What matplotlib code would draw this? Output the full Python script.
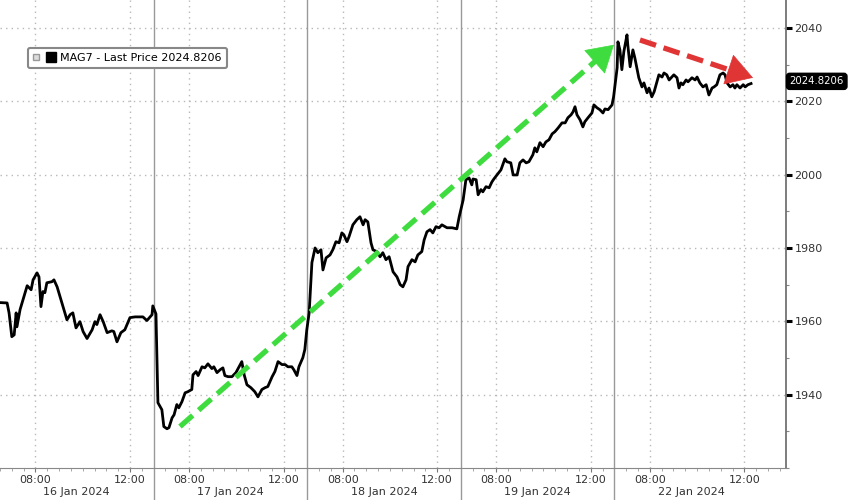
"""
MAG7 intraday chart (16-22 Jan 2024)
"""
import numpy as np
import matplotlib
matplotlib.use('Agg')
import matplotlib.pyplot as plt
from matplotlib.lines import Line2D
from matplotlib.legend_handler import HandlerTuple
from matplotlib.ticker import MultipleLocator
from matplotlib.transforms import blended_transform_factory

plt.rcParams['font.family'] = ['DejaVu Sans']

# trading minutes elapsed since 16 Jan 06:30 (each session = 390 min)
minutes = [
    0, 18, 23, 30, 36, 41, 43, 51, 69, 79, 84, 94, 99, 104, 109, 114, 119, 132, 137, 145,
    157, 170, 178, 185, 193, 203, 211, 221, 234, 241, 246, 254, 262, 272, 284, 289, 297, 307,
    317, 330, 343, 355, 363, 373, 386, 388,
    396, 401, 411, 416, 424, 429, 437, 442, 449, 454, 462, 470, 477, 487, 490, 498, 503, 513,
    520, 528, 538, 543, 551, 559, 566, 571, 579, 589, 599, 607, 614, 620, 627, 637, 647, 655,
    665, 673, 680, 691, 698, 706, 716, 724, 731, 741, 746, 754, 759, 769, 774, 779,
    785, 792, 800, 807, 815, 820, 828, 838, 845, 853, 861, 868, 873, 881, 886, 896, 906, 914,
    922, 927, 934, 942, 947, 957, 965, 972, 980, 988, 998, 1008, 1016, 1023, 1031, 1036, 1046,
    1054, 1061, 1071, 1077, 1084, 1092, 1099, 1107, 1115, 1122, 1135, 1148, 1160, 1166,
    1176, 1183, 1191, 1198, 1201, 1209, 1214, 1221, 1226, 1234, 1242, 1249, 1254, 1262, 1272,
    1282, 1287, 1297, 1303, 1313, 1320, 1328, 1336, 1343, 1353, 1358, 1363, 1371, 1379, 1386,
    1394, 1402, 1409, 1417, 1427, 1435, 1442, 1450, 1455, 1460, 1465, 1473, 1480, 1485, 1493,
    1503, 1508, 1516, 1523, 1531, 1536, 1544, 1554, 1558,
    1567, 1569, 1574, 1579, 1584, 1592, 1594, 1600, 1605, 1607, 1612, 1617, 1622, 1630, 1635,
    1643, 1648, 1655, 1661, 1668, 1673, 1681, 1686, 1693, 1699, 1706, 1711, 1719, 1724, 1729,
    1734, 1742, 1747, 1757, 1765, 1770, 1777, 1785, 1793, 1800, 1808, 1813, 1820, 1828, 1836,
    1841, 1846, 1854, 1861, 1866, 1871, 1879, 1887, 1892, 1899, 1907,
]
prices = [
    1965.1, 1965.0, 1962.3, 1955.8, 1956.3, 1962.3, 1958.5, 1963.2, 1969.7, 1968.6, 1971.3,
    1973.2, 1972.1, 1964.0, 1968.1, 1967.8, 1970.5, 1970.8, 1971.3, 1969.4, 1965.1, 1960.4,
    1961.8, 1962.3, 1958.2, 1959.9, 1957.2, 1955.3, 1957.7, 1959.9, 1959.1, 1961.8, 1959.9,
    1956.9, 1957.4, 1957.2, 1954.4, 1956.9, 1957.7, 1961.0, 1961.2, 1961.2, 1961.2, 1960.2,
    1961.8, 1964.2,
    1962.0, 1937.8, 1935.9, 1931.3, 1930.7, 1931.0, 1933.7, 1934.5, 1937.3, 1936.4, 1938.1,
    1940.5, 1940.8, 1941.4, 1945.4, 1946.3, 1945.2, 1947.6, 1947.3, 1948.4, 1947.1, 1947.6,
    1946.0, 1946.8, 1947.3, 1945.2, 1944.9, 1944.9, 1946.0, 1947.6, 1949.0, 1945.4, 1942.7,
    1941.9, 1940.8, 1939.4, 1941.4, 1941.9, 1942.2, 1944.9, 1946.3, 1949.0, 1948.2, 1948.2,
    1947.6, 1947.6, 1946.8, 1945.2, 1947.6, 1950.1, 1952.3, 1957.7,
    1962.3, 1976.0, 1980.0, 1978.7, 1979.5, 1974.0, 1977.3, 1978.1, 1979.5, 1981.7, 1981.4,
    1984.1, 1983.6, 1981.7, 1983.0, 1986.3, 1987.7, 1988.5, 1986.3, 1987.7, 1987.1, 1981.4,
    1979.5, 1979.0, 1977.6, 1978.7, 1976.8, 1977.6, 1973.5, 1972.1, 1970.0, 1969.4, 1971.3,
    1974.9, 1976.8, 1976.2, 1978.1, 1979.0, 1982.2, 1984.4, 1985.0, 1984.1, 1985.8, 1985.5,
    1986.3, 1985.5, 1985.5, 1985.2, 1988.5,
    1993.1, 1998.6, 1999.1, 1997.2, 1998.8, 1998.6, 1994.5, 1995.9, 1995.3, 1996.7, 1996.4,
    1998.0, 1998.8, 1999.9, 2001.3, 2004.3, 2003.5, 2003.2, 1999.9, 1999.9, 2003.2, 2004.0,
    2003.2, 2003.5, 2005.4, 2007.3, 2006.2, 2008.7, 2007.6, 2008.9, 2009.5, 2011.1, 2011.7,
    2012.7, 2014.1, 2014.1, 2015.5, 2016.3, 2017.1, 2018.5, 2016.3, 2014.9, 2013.0, 2014.4,
    2015.5, 2016.8, 2019.0, 2018.2, 2017.7, 2016.8, 2017.9, 2017.7, 2019.0, 2021.2,
    2029.1, 2036.2, 2034.0, 2028.6, 2033.5, 2038.1, 2035.4, 2029.4, 2032.6, 2034.0, 2031.8,
    2029.1, 2026.4, 2023.9, 2025.0, 2022.3, 2023.6, 2021.2, 2022.6, 2025.3, 2027.2, 2026.6,
    2027.7, 2027.2, 2025.8, 2026.6, 2027.2, 2026.4, 2023.6, 2025.0, 2024.5, 2025.8, 2025.3,
    2026.4, 2025.8, 2026.6, 2025.0, 2023.9, 2024.5, 2021.7, 2023.6, 2023.9, 2024.5, 2027.2,
    2027.7, 2027.2, 2025.0, 2023.9, 2024.5, 2023.6, 2024.5, 2023.6, 2024.5, 2023.9, 2024.5,
    2024.82,
]

sessions = ["16 Jan 2024", "17 Jan 2024", "18 Jan 2024", "19 Jan 2024", "22 Jan 2024"]
session_len = 390
session_open = "06:30"
tick_clocks = ["08:00", "12:00"]
y_ticks = [1940, 1960, 1980, 2000, 2020, 2040]
last_price = 2024.8206
legend_label = "MAG7 - Last Price 2024.8206"

# annotation arrows: (start, end) in (minute, price)
green_arrow = [(457, 1931.3), (1559, 2035.4)]
red_arrow = [(1625, 2036.7), (1912, 2026.4)]


def clock_to_min(s):
    h, m = s.split(":")
    return int(h) * 60 + int(m)


fig = plt.figure(figsize=(8.48, 5), dpi=100)
ax = fig.add_axes([0, 0.064, 0.927, 0.936])

ax.plot(minutes, prices, color='black', lw=2.0, zorder=5, solid_joinstyle='round')
ax.set_xlim(0, 1996)
ax.set_ylim(1920, 2047.6)

# x ticks: 08:00 / 12:00 of every session
open_min = clock_to_min(session_open)
xt, xl = [], []
for i in range(len(sessions)):
    for c in tick_clocks:
        xt.append(i * session_len + clock_to_min(c) - open_min)
        xl.append(c)
ax.set_xticks(xt)
ax.set_xticklabels(xl)
ax.xaxis.set_minor_locator(MultipleLocator(30))
ax.tick_params(axis='x', which='major', length=3, color='#777', labelsize=8,
               labelcolor='#333', pad=2)
ax.tick_params(axis='x', which='minor', length=2, color='#999')

# y axis on the right
ax.yaxis.tick_right()
ax.set_yticks(y_ticks)
ax.yaxis.set_minor_locator(MultipleLocator(10))
ax.tick_params(axis='y', which='major', length=4, width=2.2, color='black',
               labelsize=8, labelcolor='#333', pad=2)
ax.tick_params(axis='y', which='minor', length=2, width=0.8, color='#888')

ax.grid(True, which='major', ls=(0, (1, 3)), color='#b8b8b8', lw=1)

for s in ['left', 'top']:
    ax.spines[s].set_visible(False)
ax.spines['right'].set_color('#666')
ax.spines['right'].set_linewidth(1.2)
ax.spines['bottom'].set_color('#888')

# session separators, running down through the labels
for i in range(1, len(sessions)):
    ax.axvline(i * session_len, ymin=-0.07, ymax=1, clip_on=False, color='#999', lw=1)

trans = blended_transform_factory(ax.transData, ax.transAxes)
for i, s in enumerate(sessions):
    ax.text(i * session_len + session_len / 2, -0.052, s, transform=trans,
            ha='center', va='center', fontsize=8, color='#333')

# last price tag
ytrans = blended_transform_factory(ax.transAxes, ax.transData)
ax.annotate(f"{last_price:.4f}", xy=(1, last_price + 0.6), xycoords=ytrans,
            xytext=(2.5, 0), textcoords='offset points', ha='left', va='center',
            fontsize=7.3, color='white', annotation_clip=False,
            bbox=dict(boxstyle='round,pad=0.3', fc='black', ec='black'))

# legend
h1 = Line2D([], [], marker='s', ls='', markerfacecolor='#dddddd', markeredgecolor='#999',
            markersize=4)
h2 = Line2D([], [], marker='s', ls='', color='black', markersize=7)
leg = ax.legend([(h1, h2)], [legend_label],
                handler_map={tuple: HandlerTuple(ndivide=None, pad=0.6)},
                loc='upper left', bbox_to_anchor=(0.035, 0.898), fontsize=8, frameon=True,
                fancybox=True, edgecolor='#888', handlelength=2.0, handletextpad=0.5,
                borderpad=0.45, borderaxespad=0)
leg.get_frame().set_linewidth(1.5)
leg.get_frame().set_alpha(1)

# trend arrows: dashed shaft + solid head
for (p0, p1), col in [(green_arrow, '#3fdc3f'), (red_arrow, '#e03535')]:
    d0, d1 = ax.transData.transform([p0, p1])
    u = (d1 - d0) / np.hypot(*(d1 - d0))
    head_px = 20
    shaft_end = ax.transData.inverted().transform(d1 - u * head_px * 0.8)
    ax.plot([p0[0], shaft_end[0]], [p0[1], shaft_end[1]], color=col, lw=3.8,
            ls=(0, (3.2, 1.5)), dash_capstyle='butt', zorder=6)
    ax.annotate('', xy=p1, xytext=(-u[0] * head_px * 0.72, -u[1] * head_px * 0.72),
                textcoords='offset points',
                arrowprops=dict(arrowstyle='-|>,head_length=1.0,head_width=0.6',
                                color=col, lw=0.5, shrinkA=0, shrinkB=0,
                                mutation_scale=18),
                zorder=7)

fig.savefig('out.png', dpi=100)
plt.close(fig)
